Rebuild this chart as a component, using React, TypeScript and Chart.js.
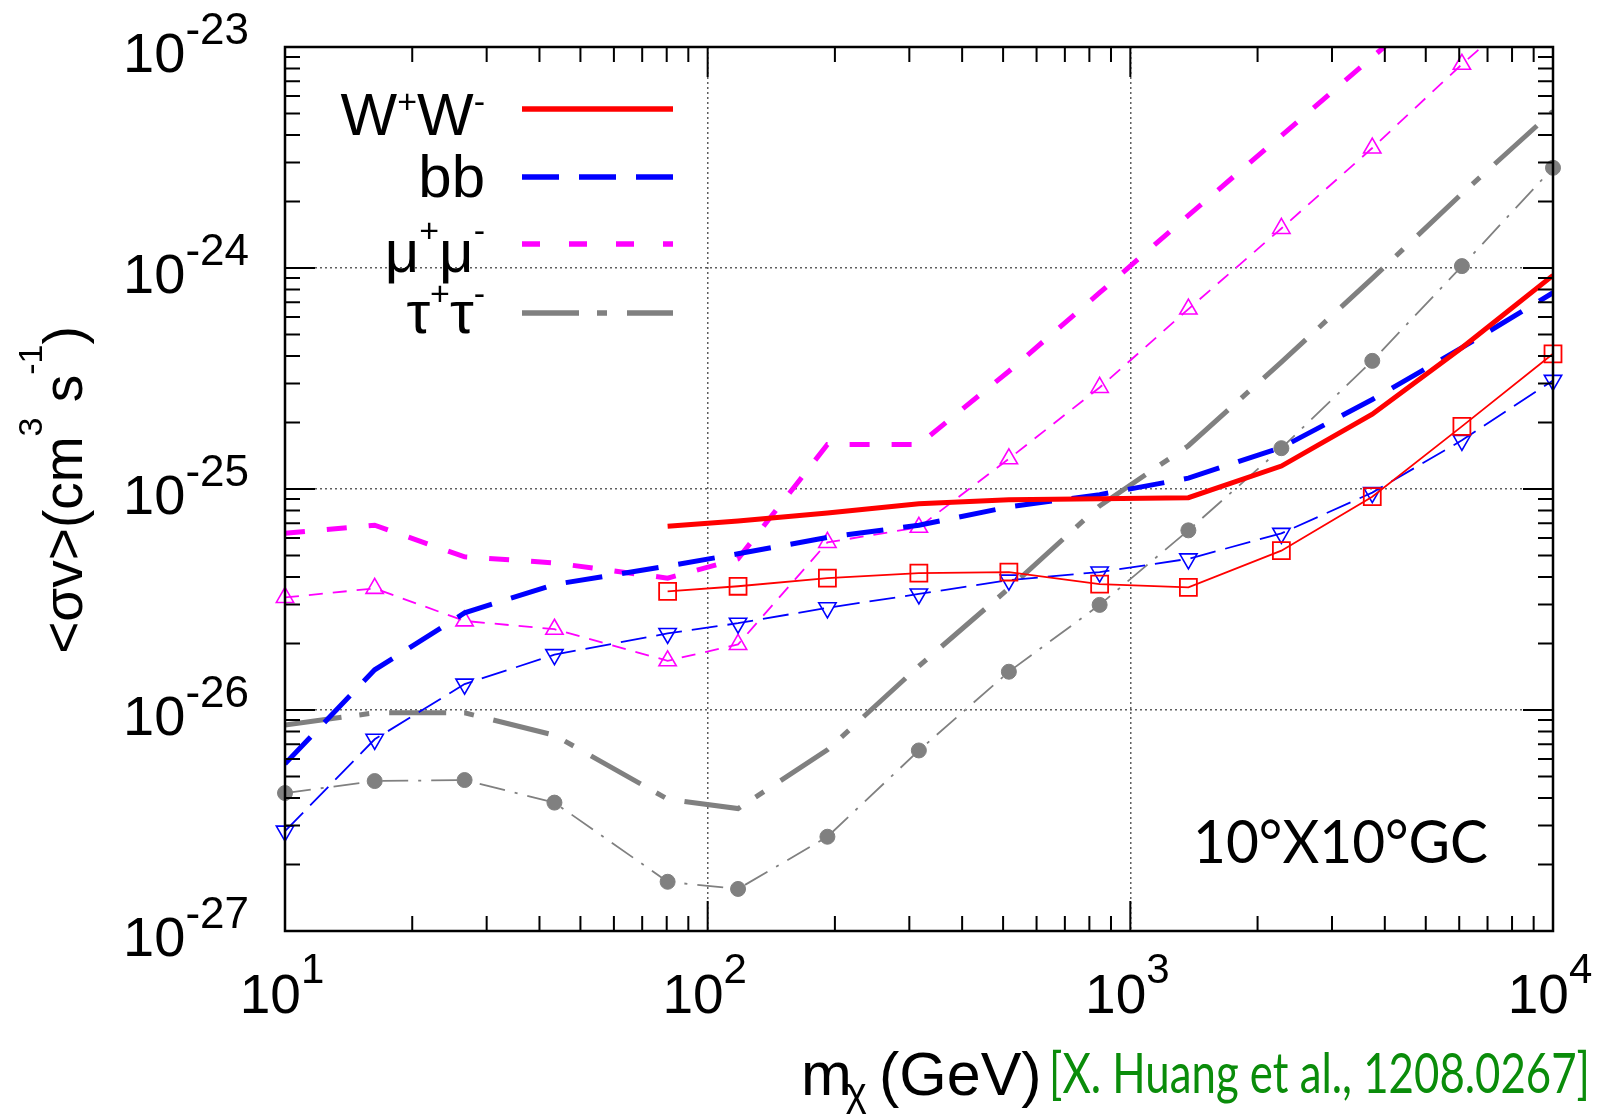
import React, { useEffect, useRef } from 'react';
import { Chart, registerables } from 'chart.js';

Chart.register(...registerables);

// ---- data ----
const masses = [10, 16.3, 26.6, 43.4, 80.4, 118, 192, 316, 516, 846, 1372, 2277, 3736, 6088, 10000];
const wwMasses = [80.4, 118, 192, 316, 516, 846, 1372, 2277, 3736, 6088, 10000];

const wwThick = [6.79e-26, 7.16e-26, 7.79e-26, 8.57e-26, 8.95e-26, 9.04e-26, 9.13e-26, 1.27e-25, 2.18e-25, 4.36e-25, 9.26e-25];
const wwMarked = [3.44e-26, 3.63e-26, 3.95e-26, 4.16e-26, 4.21e-26, 3.71e-26, 3.59e-26, 5.26e-26, 9.23e-26, 1.92e-25, 4.09e-25];

const bbThick = [5.71e-27, 1.52e-26, 2.75e-26, 3.7e-26, 4.48e-26, 5.09e-26, 6.04e-26, 6.86e-26, 8.3e-26, 9.43e-26, 1.12e-25, 1.54e-25, 2.54e-25, 4.36e-25, 7.73e-25];
const bbMarked = [2.83e-27, 7.37e-27, 1.31e-26, 1.78e-26, 2.22e-26, 2.47e-26, 2.9e-26, 3.35e-26, 3.87e-26, 4.21e-26, 4.83e-26, 6.3e-26, 9.63e-26, 1.66e-25, 3.1e-25];

const mumuThick = [6.3e-26, 6.86e-26, 4.93e-26, 4.63e-26, 3.95e-26, 4.83e-26, 1.59e-25, 1.59e-25, 3.41e-25, 7.73e-25, 1.73e-24, 3.97e-24, 9.0e-24, 2.0e-23, 4.5e-23];
const mumuMarked = [3.23e-26, 3.55e-26, 2.53e-26, 2.32e-26, 1.67e-26, 1.98e-26, 5.73e-26, 6.71e-26, 1.37e-25, 2.88e-25, 6.52e-25, 1.51e-24, 3.49e-24, 8.35e-24, 1.91e-23];

const tautauThick = [8.55e-27, 9.71e-27, 9.71e-27, 7.69e-27, 3.95e-27, 3.58e-27, 6.6e-27, 1.58e-26, 3.55e-26, 8.39e-26, 1.57e-25, 3.75e-25, 8.97e-25, 2.17e-24, 5.12e-24];
const tautauMarked = [4.21e-27, 4.77e-27, 4.82e-27, 3.81e-27, 1.67e-27, 1.55e-27, 2.67e-27, 6.56e-27, 1.49e-26, 2.99e-26, 6.5e-26, 1.53e-25, 3.8e-25, 1.02e-24, 2.84e-24];

const xDecades = [1, 2, 3, 4];
const yDecades = [-27, -26, -25, -24, -23];

const RED = '#ff0000';
const BLUE = '#0000ff';
const MAGENTA = '#ff00ff';
const GRAY = '#808080';

const SANS = "'Liberation Sans', Arial, Helvetica, sans-serif";
const HUMANIST = "Lato, 'Open Sans', sans-serif";

type Seg = [string, number];

const legendItems: { segs: Seg[]; color: string; dash: number[]; rise: number }[] = [
  { segs: [['W', 0], ['+', 1], ['W', 0], ['-', 1]], color: RED, dash: [], rise: 22 },
  { segs: [['bb', 0]], color: BLUE, dash: [37, 20], rise: 0 },
  { segs: [['μ', 0], ['+', 1], ['μ', 0], ['-', 1]], color: MAGENTA, dash: [18, 29], rise: 30 },
  { segs: [['τ', 0], ['+', 1], ['τ', 0], ['-', 1]], color: GRAY, dash: [57, 18, 10, 20], rise: 28 },
];

function drawRich(
  ctx: CanvasRenderingContext2D,
  segs: Seg[],
  x: number,
  y: number,
  align: 'left' | 'right' | 'center',
  mainPx: number,
  supPx: number,
  rise: number,
  family: string = SANS
) {
  let w = 0;
  const widths: number[] = [];
  for (const [t, s] of segs) {
    ctx.font = `${s ? supPx : mainPx}px ${family}`;
    const mw = ctx.measureText(t).width;
    widths.push(mw);
    w += mw;
  }
  let cx = align === 'right' ? x - w : align === 'center' ? x - w / 2 : x;
  ctx.textAlign = 'left';
  ctx.textBaseline = 'alphabetic';
  segs.forEach(([t, s], i) => {
    ctx.font = `${s ? supPx : mainPx}px ${family}`;
    ctx.fillText(t, cx, s === 1 ? y - rise : s === -1 ? y + rise : y);
    cx += widths[i];
  });
}

const decorPlugin = {
  id: 'decor',
  afterDraw(chart: any) {
    const ctx: CanvasRenderingContext2D = chart.ctx;
    const { left, right, top, bottom } = chart.chartArea;
    const xs = chart.scales.x;
    const ys = chart.scales.y;
    ctx.save();

    // minor / major ticks (inward, all sides)
    ctx.strokeStyle = '#000';
    ctx.lineWidth = 2;
    ctx.setLineDash([]);
    ctx.beginPath();
    for (let e = xDecades[0]; e < xDecades[xDecades.length - 1]; e++) {
      for (let k = 1; k <= 9; k++) {
        if (k === 1 && e === xDecades[0]) continue;
        const px = xs.getPixelForValue(k * Math.pow(10, e));
        const len = k === 1 ? 30 : 15;
        ctx.moveTo(px, bottom);
        ctx.lineTo(px, bottom - len);
        ctx.moveTo(px, top);
        ctx.lineTo(px, top + len);
      }
    }
    for (let e = yDecades[0]; e < yDecades[yDecades.length - 1]; e++) {
      for (let k = 1; k <= 9; k++) {
        if (k === 1 && e === yDecades[0]) continue;
        const py = ys.getPixelForValue(k * Math.pow(10, e));
        const len = k === 1 ? 30 : 15;
        ctx.moveTo(left, py);
        ctx.lineTo(left + len, py);
        ctx.moveTo(right, py);
        ctx.lineTo(right - len, py);
      }
    }
    ctx.stroke();

    // frame
    ctx.lineWidth = 2.5;
    ctx.strokeRect(left, top, right - left, bottom - top);

    ctx.fillStyle = '#000';
    // y tick labels
    for (const e of yDecades) {
      const gy = ys.getPixelForValue(Math.pow(10, e));
      drawRich(ctx, [['10', 0], [`${e}`, 1]], 249, gy + 25, 'right', 56, 44, 28);
    }
    // x tick labels
    for (const e of xDecades) {
      const gx = xs.getPixelForValue(Math.pow(10, e));
      drawRich(ctx, [['10', 0], [`${e}`, 1]], gx - 3, 1013, 'center', 55, 42, 30);
    }

    // y axis title
    ctx.save();
    ctx.translate(82, 490);
    ctx.rotate(-Math.PI / 2);
    drawRich(ctx, [['<σv>(cm', 0], ['3', 1], [' s', 0], ['-1', 1], [')', 0]], 0, 0, 'center', 55, 34, 40);
    ctx.restore();

    // x axis title
    ctx.font = `61px ${SANS}`;
    ctx.textAlign = 'left';
    ctx.fillText('m', 801, 1095);
    const mw = ctx.measureText('m').width;
    ctx.font = `40px ${SANS}`;
    ctx.fillText('χ', 801 + mw - 6, 1106);
    ctx.font = `61px ${SANS}`;
    ctx.fillText('(GeV)', 879, 1095, 164);

    // citation
    ctx.fillStyle = '#0a8c0a';
    ctx.font = `56px ${HUMANIST}`;
    ctx.fillText('[X. Huang et al., 1208.0267]', 1049, 1093, 541);

    // region annotation
    ctx.fillStyle = '#000';
    ctx.font = `60px ${HUMANIST}`;
    ctx.fillText('10°X10°GC', 1193, 863, 295);

    // legend
    const rowsLine = [109, 177, 244, 313];
    const rowsText = [135, 197, 272, 333];
    legendItems.forEach((it, i) => {
      ctx.fillStyle = '#000';
      drawRich(ctx, it.segs, 485, rowsText[i], 'right', 60, 34, it.rise);
      ctx.strokeStyle = it.color;
      ctx.lineWidth = 5.5;
      ctx.setLineDash(it.dash);
      ctx.beginPath();
      ctx.moveTo(522, rowsLine[i]);
      ctx.lineTo(673, rowsLine[i]);
      ctx.stroke();
    });
    ctx.setLineDash([]);
    ctx.restore();
  },
};

function pts(xsArr: number[], ysArr: number[]) {
  return xsArr.map((x, i) => ({ x, y: ysArr[i] }));
}

export default function App() {
  const ref = useRef<HTMLCanvasElement | null>(null);
  useEffect(() => {
    if (!ref.current) return;
    const markerClip = { left: 16, right: 16, top: 16, bottom: 16 };
    const topClip = { left: 16, right: 16, top: 0, bottom: 16 };
    const chart = new Chart(ref.current, {
      type: 'line',
      data: {
        datasets: [
          {
            label: 'W+W-',
            data: pts(wwMasses, wwThick),
            borderColor: RED,
            borderWidth: 5,
            pointRadius: 0,
          },
          {
            label: 'W+W- (markers)',
            data: pts(wwMasses, wwMarked),
            borderColor: RED,
            borderWidth: 1.8,
            pointStyle: 'rect',
            pointRadius: 12,
            pointBorderWidth: 1.8,
            pointBorderColor: RED,
            pointBackgroundColor: 'rgba(0,0,0,0)',
            clip: markerClip,
          },
          {
            label: 'bb',
            data: pts(masses, bbThick),
            borderColor: BLUE,
            borderWidth: 5,
            borderDash: [37, 20],
            pointRadius: 0,
          },
          {
            label: 'bb (markers)',
            data: pts(masses, bbMarked),
            borderColor: BLUE,
            borderWidth: 1.8,
            borderDash: [26, 10],
            pointStyle: 'triangle',
            pointRotation: 180,
            pointRadius: 10,
            pointBorderWidth: 1.6,
            pointBorderColor: BLUE,
            pointBackgroundColor: 'rgba(0,0,0,0)',
            clip: markerClip,
          },
          {
            label: 'μ+μ-',
            data: pts(masses, mumuThick),
            borderColor: MAGENTA,
            borderWidth: 5,
            borderDash: [20, 22],
            pointRadius: 0,
            clip: topClip,
          },
          {
            label: 'μ+μ- (markers)',
            data: pts(masses, mumuMarked),
            borderColor: MAGENTA,
            borderWidth: 1.8,
            borderDash: [14, 10],
            pointStyle: 'triangle',
            pointRadius: 10,
            pointBorderWidth: 1.6,
            pointBorderColor: MAGENTA,
            pointBackgroundColor: 'rgba(0,0,0,0)',
            clip: topClip,
          },
          {
            label: 'τ+τ-',
            data: pts(masses, tautauThick),
            borderColor: GRAY,
            borderWidth: 5,
            borderDash: [57, 18, 10, 20],
            pointRadius: 0,
          },
          {
            label: 'τ+τ- (markers)',
            data: pts(masses, tautauMarked),
            borderColor: GRAY,
            borderWidth: 1.8,
            borderDash: [26, 10, 3, 10],
            pointStyle: 'circle',
            pointRadius: 7.5,
            pointBorderWidth: 1,
            pointBorderColor: GRAY,
            pointBackgroundColor: GRAY,
            clip: markerClip,
          },
        ] as any,
      },
      options: {
        animation: false,
        responsive: false,
        devicePixelRatio: 1,
        layout: { padding: { left: 285, right: 46, top: 47, bottom: 183 } },
        elements: { line: { tension: 0 } },
        plugins: { legend: { display: false }, tooltip: { enabled: false } },
        scales: {
          x: {
            type: 'logarithmic',
            min: 10,
            max: 10000,
            ticks: { display: false },
            afterBuildTicks: (axis: any) => {
              axis.ticks = xDecades.map((e) => ({ value: Math.pow(10, e) }));
            },
            grid: {
              drawTicks: false,
              lineWidth: 1.5,
              color: (c: any) =>
                c.index === 0 || c.index === xDecades.length - 1 ? 'rgba(0,0,0,0)' : 'rgba(40,40,40,0.75)',
            },
            border: { display: false, dash: [2, 3] },
          },
          y: {
            type: 'logarithmic',
            min: 1e-27,
            max: 1e-23,
            ticks: { display: false },
            afterBuildTicks: (axis: any) => {
              axis.ticks = yDecades.map((e) => ({ value: Math.pow(10, e) }));
            },
            grid: {
              drawTicks: false,
              lineWidth: 1.5,
              color: (c: any) =>
                c.index === 0 || c.index === yDecades.length - 1 ? 'rgba(0,0,0,0)' : 'rgba(40,40,40,0.75)',
            },
            border: { display: false, dash: [2, 3] },
          },
        } as any,
      },
      plugins: [decorPlugin],
    });
    return () => chart.destroy();
  }, []);

  return (
    <div style={{ position: 'fixed', left: 0, top: 0, width: 1599, height: 1114, background: '#fff' }}>
      <canvas ref={ref} width={1599} height={1114} style={{ display: 'block', width: 1599, height: 1114 }} />
    </div>
  );
}
